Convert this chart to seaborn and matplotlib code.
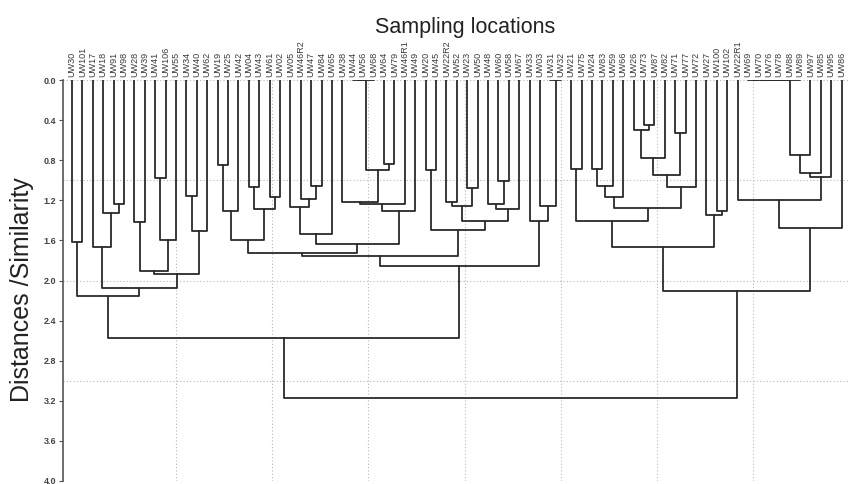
import matplotlib
matplotlib.use("Agg")
import matplotlib.pyplot as plt
import numpy as np
import pandas as pd
import seaborn as sns

# Leaf order along the top of the tree
sites = ["UW30", "UW101", "UW17", "UW18", "UW91", "UW98", "UW28", "UW39", "UW41", "UW106",
         "UW55", "UW34", "UW40", "UW62", "UW19", "UW25", "UW42", "UW04", "UW43", "UW61",
         "UW02", "UW05", "UW46R2", "UW47", "UW84", "UW65", "UW38", "UW44", "UW56", "UW68",
         "UW64", "UW79", "UW46R1", "UW49", "UW20", "UW45", "UW22R2", "UW52", "UW23", "UW50",
         "UW48", "UW60", "UW58", "UW67", "UW33", "UW03", "UW31", "UW32", "UW21", "UW75",
         "UW24", "UW83", "UW59", "UW66", "UW26", "UW73", "UW87", "UW82", "UW71", "UW77",
         "UW72", "UW27", "UW100", "UW102", "UW22R1", "UW69", "UW70", "UW76", "UW78", "UW88",
         "UW89", "UW97", "UW85", "UW95", "UW86"]

# Agglomeration steps: children (site name or "n<k>" = result of step k) and distance
merge_left = ["UW30", "UW91", "UW18", "UW17", "UW28", "UW41", "n5", "UW34", "n7", "n4",
              "n9", "n3", "n0", "UW19", "n13", "UW04", "UW61", "n15", "n14", "UW47",
              "UW46R2", "UW05", "n21", "UW44", "n23", "UW64", "n24", "UW38", "n27", "n28",
              "n22", "n18", "UW20", "UW22R2", "UW23", "n33", "UW60", "UW48", "n37", "n35",
              "n32", "n31", "UW31", "UW03", "UW33", "n41", "n12", "UW21", "UW24", "n48",
              "n49", "UW73", "UW26", "n52", "UW71", "n53", "n55", "n50", "n47", "UW100",
              "UW27", "n58", "UW69", "n62", "n63", "n64", "n65", "n66", "n67", "n68",
              "UW22R1", "n70", "n61", "n46"]
merge_right = ["UW101", "UW98", "n1", "n2", "UW39", "UW106", "UW55", "UW40", "UW62", "n6",
               "n8", "n10", "n11", "UW25", "UW42", "UW43", "UW02", "n16", "n17", "UW84",
               "n19", "n20", "UW65", "UW56", "UW68", "UW79", "n25", "n26", "UW46R1", "UW49",
               "n29", "n30", "UW45", "UW52", "UW50", "n34", "UW58", "n36", "UW67", "n38",
               "n39", "n40", "UW32", "n42", "n43", "n44", "n45", "UW75", "UW83", "UW59",
               "UW66", "UW87", "n51", "UW82", "UW77", "n54", "UW72", "n56", "n57", "UW102",
               "n59", "n60", "UW70", "UW76", "UW78", "UW88", "UW89", "UW97", "UW85", "UW95",
               "n69", "UW86", "n71", "n72"]
merge_height = [1.62, 1.24, 1.33, 1.67, 1.42, 0.98, 1.60, 1.16, 1.51, 1.91,
                1.94, 2.07, 2.15, 0.85, 1.31, 1.07, 1.17, 1.29, 1.60, 1.06,
                1.19, 1.27, 1.54, 0.00, 0.00, 0.84, 0.90, 1.22, 1.24, 1.31,
                1.64, 1.73, 0.90, 1.22, 1.08, 1.26, 1.01, 1.24, 1.29, 1.41,
                1.50, 1.76, 0.00, 1.26, 1.41, 1.86, 2.57, 0.89, 0.89, 1.06,
                1.17, 0.45, 0.50, 0.78, 0.53, 0.95, 1.07, 1.28, 1.41, 1.31,
                1.35, 1.67, 0.00, 0.00, 0.00, 0.00, 0.00, 0.75, 0.93, 0.97,
                1.20, 1.48, 2.10, 3.17]

y_ticks = [0.0, 0.4, 0.8, 1.2, 1.6, 2.0, 2.4, 2.8, 3.2, 3.6, 4.0]

# ---- build the bracket segments of the dendrogram ----
pos = {name: (float(i), 0.0) for i, name in enumerate(sites)}
rows = []
for k, (a, b, h) in enumerate(zip(merge_left, merge_right, merge_height)):
    xa, ha = pos[a]
    xb, hb = pos[b]
    for x, y in [(xa, ha), (xa, h), (xb, h), (xb, hb)]:
        rows.append({"seg": k, "x": x, "y": y})
    pos[f"n{k}"] = ((xa + xb) / 2.0, h)
segments = pd.DataFrame(rows)

sns.set_style("white")
plt.rcParams["font.family"] = ["Liberation Sans", "DejaVu Sans"]

fig = plt.figure(figsize=(8.49, 4.84), dpi=100)
W, H = 849.0, 484.0
ax_left, ax_right, ax_top, ax_bottom = 63.0, 849.0, 80.0, 481.0
ax = fig.add_axes([ax_left / W, 1 - ax_bottom / H,
                   (ax_right - ax_left) / W, (ax_bottom - ax_top) / H])

sns.lineplot(data=segments, x="x", y="y", units="seg", estimator=None, sort=False,
             color="#2a2a2a", linewidth=1.3, ax=ax, legend=False)

spacing = 10.4
xmin = -(72.0 - ax_left) / spacing
xmax = xmin + (ax_right - ax_left) / spacing
ax.set_xlim(xmin, xmax)
ax.set_ylim(4.0, 0.0)

# dotted reference grid
for yv in [0.0, 1.0, 2.0, 3.0, 4.0]:
    ax.axhline(yv, color="#b8b8b8", lw=0.8, ls=(0, (1, 2)), zorder=0)
grid_x0, grid_step = 10.0, 9.25
for k in range(7):
    ax.axvline(grid_x0 + k * grid_step, color="#b8b8b8", lw=0.8, ls=(0, (1, 2)), zorder=0)

ax.xaxis.tick_top()
ax.set_xticks(range(len(sites)))
ax.set_xticklabels(sites, rotation=90, fontsize=6.5, color="#3a3a3a")
ax.tick_params(axis="x", length=0, pad=2)
ax.set_yticks(y_ticks)
ax.set_yticklabels([f"{v:.1f}" for v in y_ticks], fontsize=6.5, color="#444444",
                   fontweight="bold")
ax.tick_params(axis="y", length=3, width=0.8, color="#555555", pad=2, left=True)
ax.set_xlabel("")
ax.set_ylabel("")

for side in ["top", "right", "bottom"]:
    ax.spines[side].set_visible(False)
ax.spines["left"].set_color("#555555")
ax.spines["left"].set_linewidth(1.2)

fig.text(465 / W, 1 - 27 / H, "Sampling locations", fontsize=15.5, color="#222222",
         ha="center", va="center")
fig.text(22 / W, 1 - 290 / H, "Distances /Similarity", fontsize=18, color="#222222",
         rotation=90, ha="center", va="center")

fig.savefig("out.png", dpi=100)
